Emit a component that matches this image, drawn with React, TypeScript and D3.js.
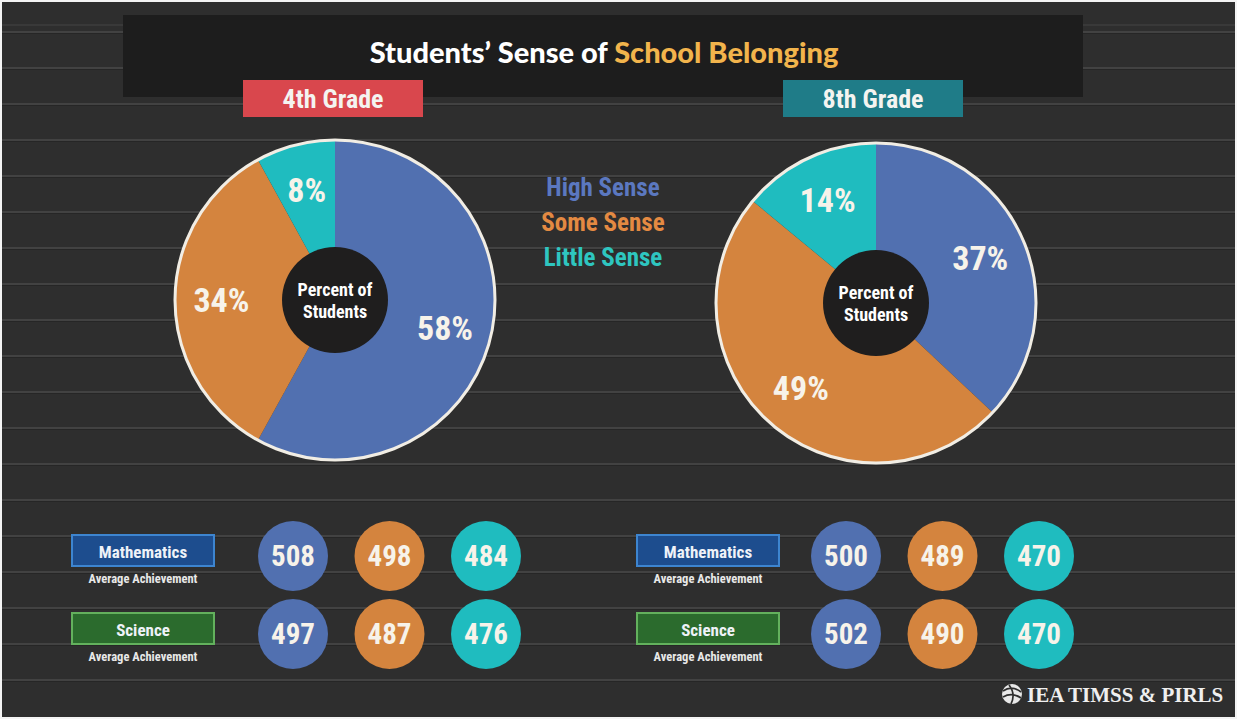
import React from "react";
import * as d3 from "d3";

const W = 1237;
const H = 719;

const categories = ["High Sense", "Some Sense", "Little Sense"];
const grades = ["4th Grade", "8th Grade"];
const percent4th = [58, 34, 8];
const percent8th = [37, 49, 14];
const subjects = ["Mathematics", "Science"];
const math4th = [508, 498, 484];
const science4th = [497, 487, 476];
const math8th = [500, 489, 470];
const science8th = [502, 490, 470];

const colors = ["#5170b0", "#d4843e", "#1fbcbf"];
const legendColors = ["#5b78c0", "#e48a42", "#2ec6c0"];
const gradeColors = ["#d9474d", "#1f7c88"];
const subjectFill = ["#1d4d8e", "#2b6b2d"];
const subjectStroke = ["#3d85d0", "#63b15d"];

const FONT = "'Liberation Sans Narrow', 'Roboto Condensed', 'Arial Narrow', 'Liberation Sans', sans-serif";

const panels = [
  { grade: grades[0], pct: percent4th, scores: [math4th, science4th], cx: 335, cy: 300, boxX: 243, labelX: 72, circleX0: 293 },
  { grade: grades[1], pct: percent8th, scores: [math8th, science8th], cx: 876, cy: 303, boxX: 783, labelX: 637, circleX0: 846 },
];

const R = 160;
const rHole = 53;

function Pie({ p }: { p: typeof panels[0] }) {
  const pieGen = d3.pie<number>().sort(null).value((d) => d);
  const arcs = pieGen(p.pct);
  const arcGen = d3.arc<d3.PieArcDatum<number>>().innerRadius(0).outerRadius(R);
  const labelArc = d3.arc<d3.PieArcDatum<number>>().innerRadius(R * 0.71).outerRadius(R * 0.71);
  return (
    <g transform={`translate(${p.cx},${p.cy})`}>
      {arcs.map((a, i) => (
        <path key={i} d={arcGen(a) || ""} fill={colors[i]} />
      ))}
      <circle r={R} fill="none" stroke="#f1ede4" strokeWidth={3} />
      <circle r={rHole} fill="#1f1e1e" />
      <text textAnchor="middle" fill="#fff" fontFamily={FONT} fontWeight="bold" fontSize={18}>
        <tspan x={0} y={-4}>Percent of</tspan>
        <tspan x={0} y={18}>Students</tspan>
      </text>
      {arcs.map((a, i) => {
        const [x, y] = labelArc.centroid(a);
        return (
          <text key={i} x={x} y={y} dy="0.35em" textAnchor="middle" fill="#f7f3ea" fontFamily={FONT} fontWeight="bold" fontSize={34}>
            {a.data}%
          </text>
        );
      })}
    </g>
  );
}

export default function App() {
  const lineYs = d3.range(0, 19).map((i) => 32 + i * 36);
  const circleStep = 96.5;
  const rowYs = [556, 634];
  return (
    <svg width={W} height={H} style={{ display: "block", position: "absolute", left: 0, top: 0 }}>
      <rect x={0} y={0} width={W} height={H} fill="#f4f4f4" />
      <rect x={2} y={2} width={W - 4} height={H - 4} fill="#2e2e2e" />
      {lineYs.map((y, i) => (
        <g key={i}>
          <line x1={2} x2={W - 2} y1={y} y2={y} stroke="#4a4a4a" strokeWidth={1.5} />
          <line x1={2} x2={W - 2} y1={y + 1.5} y2={y + 1.5} stroke="#262626" strokeWidth={1} />
        </g>
      ))}
      <line x1={2} x2={W - 2} y1={25} y2={25} stroke="#444" strokeWidth={1} />

      {/* title bar */}
      <rect x={123} y={15} width={960} height={82} fill="#1d1d1d" />
      <text x={604} y={63} textAnchor="middle" fontFamily="Lato, 'Open Sans', sans-serif" fontWeight="900" fontSize={29} fill="#fff">
        Students’ Sense of <tspan fill="#f2b44c">School Belonging</tspan>
      </text>

      {panels.map((p, k) => (
        <g key={k}>
          <rect x={p.boxX} y={80} width={180} height={37} fill={gradeColors[k]} />
          <text x={p.boxX + 90} y={108} textAnchor="middle" fontFamily={FONT} fontWeight="bold" fontSize={26} fill="#f4f4f0">
            {p.grade}
          </text>
          <Pie p={p} />
          {subjects.map((s, j) => (
            <g key={j}>
              <rect x={p.labelX} y={rowYs[j] - 21} width={142} height={31} fill={subjectFill[j]} stroke={subjectStroke[j]} strokeWidth={2} />
              <text x={p.labelX + 71} y={rowYs[j] + 2} textAnchor="middle" fontFamily={FONT} fontWeight="bold" fontSize={17} fill="#eef2f8">
                {s}
              </text>
              <text x={p.labelX + 71} y={rowYs[j] + 27} textAnchor="middle" fontFamily={FONT} fontWeight="bold" fontSize={12.5} fill="#e8e8e8">
                Average Achievement
              </text>
              {p.scores[j].map((v, i) => (
                <g key={i} transform={`translate(${p.circleX0 + i * circleStep},${rowYs[j]})`}>
                  <circle r={35} fill={colors[i]} />
                  <text y={0} dy="0.35em" textAnchor="middle" fontFamily={FONT} fontWeight="bold" fontSize={29} fill="#f7f3ea">
                    {v}
                  </text>
                </g>
              ))}
            </g>
          ))}
        </g>
      ))}

      {/* legend */}
      {categories.map((c, i) => (
        <text key={i} x={603} y={196 + i * 35} textAnchor="middle" fontFamily={FONT} fontWeight="bold" fontSize={25} fill={legendColors[i]}>
          {c}
        </text>
      ))}

      {/* logo */}
      <g transform="translate(1012,694)">
        <circle r={10} fill="#e8e8e8" />
        <path d="M-9,-3 Q0,-9 9,-2 M-9,3 Q0,-2 9,4 M-3,-9 Q4,0 -1,10" stroke="#2e2e2e" strokeWidth={1.7} fill="none" />
        <text x={15} y={8} fontFamily="'Liberation Serif', 'DejaVu Serif', serif" fontWeight="bold" fontSize={21} fill="#efefef">
          IEA TIMSS &amp; PIRLS
        </text>
      </g>
    </svg>
  );
}
